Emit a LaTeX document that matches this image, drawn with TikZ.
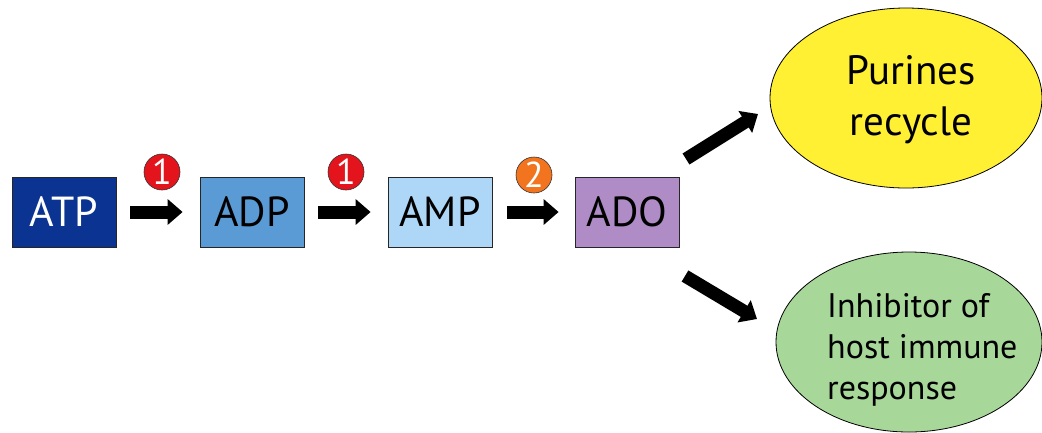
\documentclass[tikz,border=0pt]{standalone}
\usepackage{fontspec}
\setmainfont{PT Sans}
\usetikzlibrary{arrows.meta,shapes.geometric}
\definecolor{atpc}{HTML}{0B3391}
\definecolor{adpc}{HTML}{5B9BD5}
\definecolor{ampc}{HTML}{AED6F7}
\definecolor{adoc}{HTML}{B08CC6}
\definecolor{yel}{HTML}{FFF033}
\definecolor{grn}{HTML}{A8D79A}
\definecolor{redc}{HTML}{E3141B}
\definecolor{orc}{HTML}{F2741F}
\tikzset{
  box/.style={draw=black!85, line width=0.8pt, minimum width=104pt, minimum height=70pt, inner sep=0pt, font=\fontsize{42}{44}\selectfont},
  bigarrow/.style={line width=13pt, -{Triangle[length=15pt,width=25pt]}},
  badge/.style={circle, draw=black!80, line width=0.6pt, minimum size=36pt, inner sep=0pt, text=white, font=\fontsize{36}{36}\selectfont},
  oval/.style={ellipse, draw=black, line width=0.8pt, inner sep=0pt},
}
\begin{document}
\begin{tikzpicture}[x=1pt,y=-1pt]
\useasboundingbox (0,0) rectangle (1042,432);
\node[box, fill=atpc, text=white] (ATP) at (64,212) {ATP};
\node[box, fill=adpc] (ADP) at (252,212) {ADP};
\node[box, fill=ampc] (AMP) at (440,212) {AMP};
\node[box, fill=adoc] (ADO) at (627,212) {ADO};
\node[badge, fill=redc] (b1) at (162,172) {1};
\node[badge, fill=redc] (b2) at (346,172) {1};
\node[badge, fill=orc] (b3) at (534,175) {2};
\node[oval, fill=yel, minimum width=272pt, minimum height=180pt] (PR) at (906,98) {};
\node[align=center, font=\fontsize{41}{51}\selectfont] (PRt) at (911,100) {Purines\\recycle};
\node[oval, fill=grn, minimum width=266pt, minimum height=180pt] (IH) at (909,342) {};
\node[align=left, font=\fontsize{34}{41}\selectfont, anchor=west, inner sep=0pt] (IHt) at (827,350) {Inhibitor of\\host immune\\response};
\draw[bigarrow] ([xshift=14pt]ATP.east) -- ([xshift=-17pt]ADP.west);
\draw[bigarrow] ([xshift=14pt]ADP.east) -- ([xshift=-17pt]AMP.west);
\draw[bigarrow] ([xshift=15pt]AMP.east) -- ([xshift=-16pt]ADO.west);
\coordinate (s1) at (686,159);
\coordinate (e1) at (758,114);
\coordinate (s2) at (685,276);
\coordinate (e2) at (757,319);
\draw[bigarrow] (s1) -- (e1);
\draw[bigarrow] (s2) -- (e2);
\end{tikzpicture}
\end{document}
